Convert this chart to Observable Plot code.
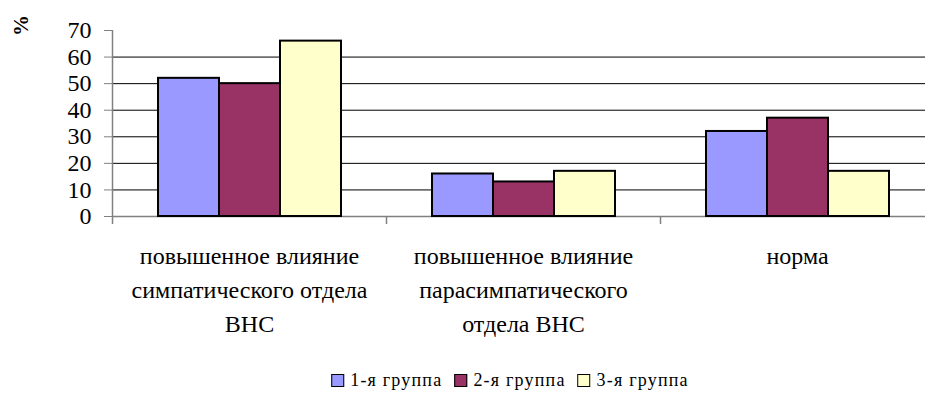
<!DOCTYPE html>
<html><head><meta charset="utf-8">
<script src="https://cdn.jsdelivr.net/npm/d3@7"></script>
<script src="https://cdn.jsdelivr.net/npm/@observablehq/plot@0.6"></script>
<style>
body{margin:0;}
.serif{font-family:'Liberation Serif',serif;}
#fig{position:absolute;left:0;top:0;}
#unit{position:absolute;left:11px;top:15px;font-size:21px;font-weight:bold;transform:rotate(-90deg);line-height:1;}
#key{position:absolute;left:510px;top:370px;transform:translateX(-50%);display:flex;align-items:center;font-size:18px;letter-spacing:1.2px;white-space:nowrap;}
#key .item{display:flex;align-items:center;margin:0 6px;}
#key .sw{width:11px;height:11px;border:1px solid #000;margin-right:6px;}
</style></head><body>
<div id="fig" class="serif"></div><div id="unit" class="serif">%</div><div id="key" class="serif"></div>
<script>
const categories = ["повышенное влияние\nсимпатического отдела\nВНС", "повышенное влияние\nпарасимпатического\nотдела ВНС", "норма"];
const groups = ["1-я группа", "2-я группа", "3-я группа"];
const group1 = [52, 16, 32];
const group2 = [50, 13, 37];
const group3 = [66, 17, 17];
const colors = ["#9999FF", "#993366", "#FFFFCC"];
const yTicks = [0, 10, 20, 30, 40, 50, 60, 70];
const gridTicks = [10, 20, 30, 40, 50, 60];

const series = [group1, group2, group3];
const data = categories.flatMap((c, i) => groups.map((g, j) => ({category: c, group: g, value: series[j][i]})));

const plot = Plot.plot({
  width: 925, height: 350,
  marginLeft: 112, marginRight: -9, marginTop: 30, marginBottom: 134,
  style: {fontFamily: "Liberation Serif", background: "transparent", color: "#000"},
  fx: {domain: categories, paddingInner: 0, paddingOuter: 0, label: null},
  x: {domain: groups, paddingInner: 0, paddingOuter: 0.745, axis: null},
  y: {domain: [0, 70], axis: null},
  color: {domain: groups, range: colors},
  marks: [
    Plot.gridY(gridTicks, {stroke: "#000", strokeOpacity: 1}),
    Plot.axisY(yTicks, {tickSize: 8, tickPadding: 13, stroke: "#808080", fill: "#000", fontSize: 24, label: null}),
    Plot.axisFx({anchor: "bottom", tickSize: 0, tickPadding: 24, fontSize: 24, lineHeight: 1.4, label: null, fill: "#000"}),
    Plot.ruleY([0], {stroke: "#808080", strokeWidth: 1.5}),
    Plot.barY(data, {fx: "category", x: "group", y: "value", fill: "group", stroke: "#000", strokeWidth: 2})
  ]
});
document.getElementById("fig").appendChild(plot);

// category boundary ticks and y-axis line via the plot's own scales
const fx = plot.scale("fx"), y = plot.scale("y");
const g = d3.select(plot).append("g").attr("stroke", "#808080").attr("stroke-width", 1.5);
categories.forEach((c, i) => {
  const x0 = Math.round(fx.apply(c)) + 0.5;
  g.append("line").attr("x1", x0).attr("x2", x0)
    .attr("y1", y.apply(i === 0 ? 70 : 0)).attr("y2", y.apply(0) + 8);
});

const key = d3.select("#key");
groups.forEach((grp, i) => {
  const it = key.append("div").attr("class", "item");
  it.append("div").attr("class", "sw").style("background", colors[i]);
  it.append("span").text(grp);
});
</script>
</body></html>
